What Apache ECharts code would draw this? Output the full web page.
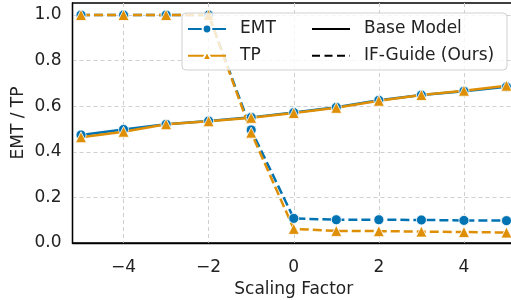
<!DOCTYPE html>
<html><head><meta charset="utf-8">
<script src="https://cdn.jsdelivr.net/npm/echarts@6/dist/echarts.min.js"></script>
<style>html,body{margin:0;padding:0;background:#fff}#c{width:511px;height:300px}</style>
</head><body><div id="c"></div>
<script>
const scaling = [-5,-4,-3,-2,-1,0,1,2,3,4,5];
const emtBase = [0.474,0.498,0.521,0.535,0.551,0.572,0.595,0.626,0.649,0.666,0.685];
const tpBase  = [0.464,0.488,0.521,0.534,0.549,0.570,0.593,0.624,0.649,0.668,0.690];
const emtIF   = [1.0,1.0,1.0,1.0,0.496,0.108,0.102,0.102,0.101,0.099,0.098];
const tpIF    = [1.0,1.0,1.0,1.0,0.484,0.062,0.053,0.052,0.050,0.048,0.046];
const xTicks = [-4,-2,0,2,4];
const yTicks = [0,0.2,0.4,0.6,0.8,1.0];

const BLUE = '#0173b2', ORANGE = '#de8f05';
const FONT = 'DejaVu Sans';
const FS = 17;
const pair = (ys) => scaling.map((x,i)=>[x, ys[i]]);
const mk = (name, data, color, sym, dashed) => ({
  name, type:'line', data, symbol: sym,
  symbolSize: sym==='circle' ? 10 : 11,
  lineStyle:{color, width:2.5, type: dashed ? [9,4] : 'solid'},
  itemStyle:{color, borderColor:'#fff', borderWidth:0.8},
  emphasis:{disabled:true}, animation:false, z:2
});
const legText = {fontFamily:FONT, fontSize:FS, color:'#222', lineHeight:17, padding:[0,0,0,9]};
const chart = echarts.init(document.getElementById('c'), null, {renderer:'canvas'});
chart.setOption({
  animation:false,
  backgroundColor:'#fff',
  grid:{left:72.5, top:3, right:-4, bottom:57, outerBoundsMode:'none', containLabel:false,
    show:true, borderColor:'#000', borderWidth:1.3, backgroundColor:'transparent'},
  xAxis:{type:'value', min:-5.2, max:5.2,
    name:'Scaling Factor', nameLocation:'middle', nameGap:35,
    nameTextStyle:{fontFamily:FONT, fontSize:FS, color:'#222', verticalAlign:'top'},
    axisLine:{show:true, onZero:false, lineStyle:{color:'#000', width:1.3}},
    axisTick:{show:false, customValues:xTicks},
    axisLabel:{customValues:xTicks, fontFamily:FONT, fontSize:FS, color:'#222', margin:16,
      formatter:v=> v<0 ? '\u2212'+Math.abs(v) : String(v)},
    splitLine:{show:true, lineStyle:{color:'#d0d0d0', type:[4,3], width:1}}
  },
  yAxis:{type:'value', min:0, max:1.0526,
    name:'EMT / TP', nameLocation:'middle', nameGap:45, nameRotate:90, nameMoveOverlap:false,
    nameTextStyle:{fontFamily:FONT, fontSize:FS, color:'#222'},
    axisLine:{show:true, onZero:false, lineStyle:{color:'#000', width:1.3}},
    axisTick:{show:false, customValues:yTicks},
    axisLabel:{customValues:yTicks, fontFamily:FONT, fontSize:FS, color:'#222', margin:11,
      formatter:v=> v.toFixed(1)},
    splitLine:{show:true, lineStyle:{color:'#d0d0d0', type:[4,3], width:1}}
  },
  graphic:[{type:'rect', shape:{x:182, y:13, width:325, height:57, r:4},
    style:{fill:'rgba(255,255,255,0.8)', stroke:'#d0d0d0', lineWidth:1}, z:3}],
  legend:[
    {data:['EMT','TP'],
     orient:'vertical', left:187, top:20.5, padding:0, itemWidth:38, itemHeight:11, itemGap:9.7,
     textStyle:legText, z:5, selectedMode:false},
    {data:[{name:'Base Model', itemStyle:{opacity:0}}, {name:'IF-Guide (Ours)', itemStyle:{opacity:0}}],
     orient:'vertical', left:311, top:20.5, padding:0, itemWidth:38, itemHeight:11, itemGap:9.7,
     textStyle:legText, z:5, selectedMode:false}
  ],
  series:[
    mk('EMT', pair(emtBase), BLUE, 'circle', false),
    mk('TP', pair(tpBase), ORANGE, 'triangle', false),
    mk('EMT-IF', pair(emtIF), BLUE, 'circle', true),
    mk('TP-IF', pair(tpIF), ORANGE, 'triangle', true),
    {name:'Base Model', type:'line', data:[], symbol:'none', lineStyle:{color:'#000', width:2}, itemStyle:{color:'#000'}},
    {name:'IF-Guide (Ours)', type:'line', data:[], symbol:'none', lineStyle:{color:'#000', width:2, type:[8,4.5]}, itemStyle:{color:'#000'}}
  ]
});
</script></body></html>
